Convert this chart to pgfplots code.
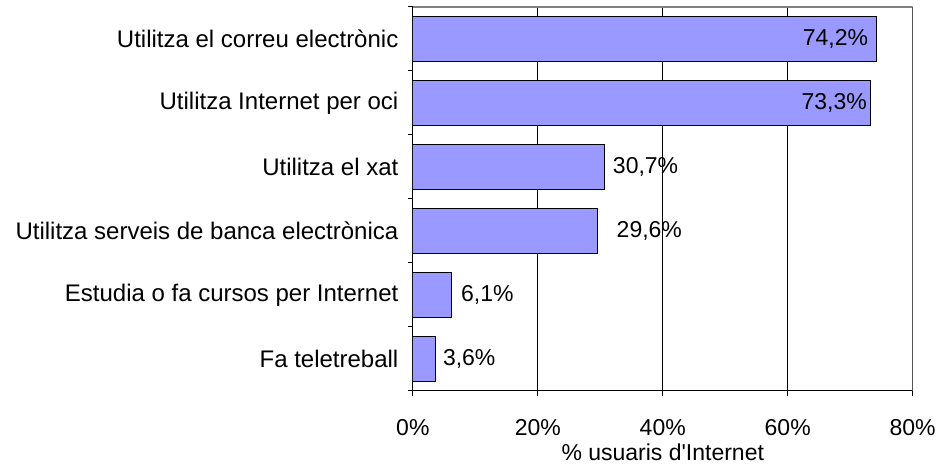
\documentclass[border=0pt]{standalone}
\usepackage{fontspec}
\setmainfont{Liberation Sans}
\usepackage{pgfplots}
\pgfplotsset{compat=1.18}
\definecolor{barblue}{HTML}{9999FF}

% bar values, category 0 at the top
\pgfplotstableread{
y x
0 74.2
1 73.3
2 30.7
3 29.6
4 6.1
5 3.6
}\usedata

% where each value label starts (left edge), and its value
\pgfplotstableread{
y lx v
0 62.4 74.2
1 62.2 73.3
2 32.0 30.7
3 32.6 29.6
4 7.7 6.1
5 4.8 3.6
}\labdata

\begin{document}
\begin{tikzpicture}
\begin{axis}[
  scale only axis, width=500pt, height=384pt,
  xmin=0, xmax=80, ymin=-0.5, ymax=5.5, y dir=reverse,
  xtick={0,20,...,80}, xticklabels={0\%,20\%,40\%,60\%,80\%},
  ytick={-0.5,0.5,...,5.5}, y tick label as interval,
  yticklabels={Utilitza el correu electrònic, Utilitza Internet per oci, Utilitza el xat,
    Utilitza serveis de banca electrònica, Estudia o fa cursos per Internet, Fa teletreball},
  axis x line*=bottom, axis y line*=left,
  tick align=outside, major tick length=5pt,
  xmajorgrids, major grid style={black, line width=0.8pt},
  axis line style={black, line width=1.2pt},
  tick style={black, line width=1pt},
  xticklabel style={font=\fontsize{23}{25}\selectfont, yshift=-20pt},
  yticklabel style={font=\fontsize{24}{26}\selectfont, xshift=-6pt},
  xlabel={\% usuaris d\textquotesingle Internet},
  xlabel style={font=\fontsize{23}{25}\selectfont, at={(axis description cs:0.5,0)},
    anchor=center, yshift=-61pt},
  /pgf/number format/assume math mode=true,
]
\addplot[xbar, fill=barblue, draw=black, line width=0.8pt, bar width=45pt]
  table[x=x, y=y]{\usedata};
\addplot[draw=none, mark=none, point meta=explicit,
  nodes near coords={\pgfmathprintnumber[use comma,fixed,fixed zerofill,precision=1]{\pgfplotspointmeta}\%},
  nodes near coords style={anchor=west, inner sep=0pt, font=\fontsize{23}{25}\selectfont}]
  table[x=lx, y=y, meta=v]{\labdata};
\draw[gray, line width=1.2pt] (rel axis cs:0,1) -- (rel axis cs:1,1) -- (rel axis cs:1,0);
\end{axis}
\path (-413pt,-75pt) rectangle (526pt,391pt);
\end{tikzpicture}
\end{document}
